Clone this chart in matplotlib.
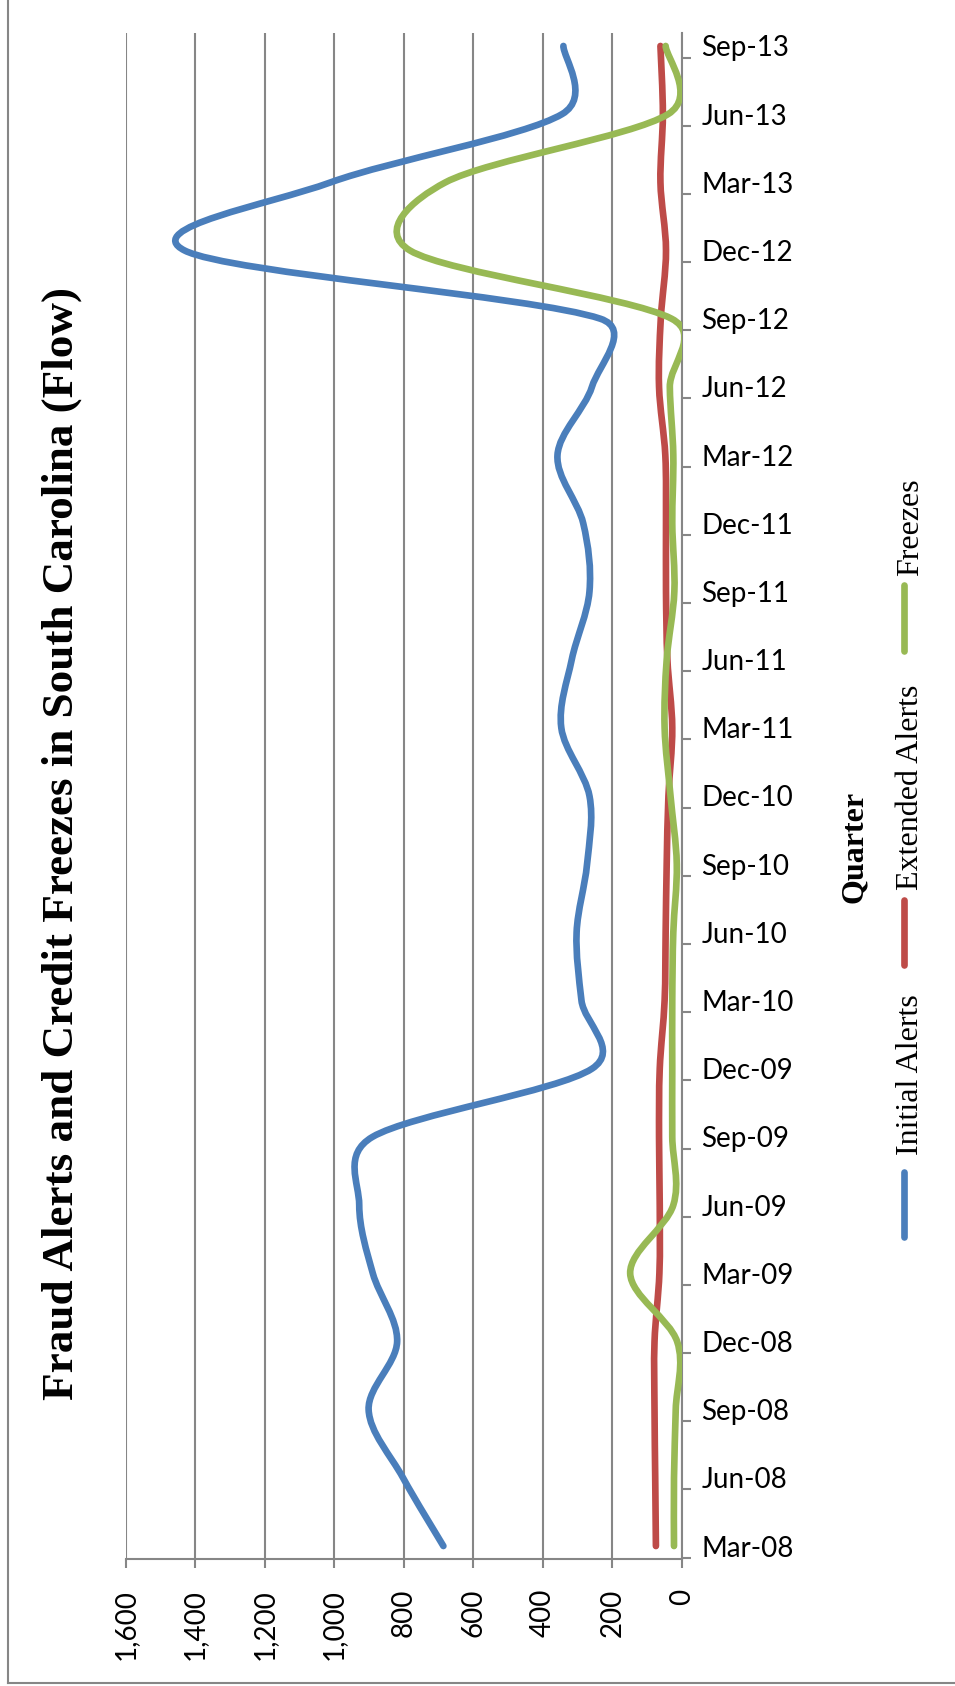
import numpy as np
import matplotlib
matplotlib.use("Agg")
import matplotlib.pyplot as plt
from matplotlib.path import Path
from matplotlib.patches import PathPatch
from matplotlib.lines import Line2D
from matplotlib.ticker import FuncFormatter

quarters = ["Mar-08", "Jun-08", "Sep-08", "Dec-08", "Mar-09", "Jun-09",
            "Sep-09", "Dec-09", "Mar-10", "Jun-10", "Sep-10", "Dec-10",
            "Mar-11", "Jun-11", "Sep-11", "Dec-11", "Mar-12", "Jun-12",
            "Sep-12", "Dec-12", "Mar-13", "Jun-13", "Sep-13"]
initial_alerts = [686, 802, 901, 819, 889, 928, 890, 259, 289, 303, 273, 266,
                  347, 317, 266, 284, 358, 259, 235, 1430, 1010, 345, 341]
extended_alerts = [75, 77, 79, 79, 65, 64, 66, 64, 50, 47, 44, 39,
                   28, 42, 46, 46, 48, 66, 61, 46, 62, 55, 62]
freezes = [23, 23, 18, 14, 149, 25, 28, 28, 28, 25, 15, 33,
           50, 44, 22, 28, 25, 35, 30, 782, 680, 40, 47]
value_ticks = list(range(0, 1601, 200))

BLUE = "#4A7EBB"
RED = "#BE4B48"
GREEN = "#98B954"
GRAY = "#868686"

W, H = 955, 1686
plt.rcParams["font.family"] = ["Lato", "DejaVu Sans"]


def smooth_path(ax, values):
    # spreadsheet-style smoothing: bezier control points from the neighbours,
    # 1/6 of the chord but never more than half the segment (screen space)
    data = np.column_stack([values, np.arange(len(values))]).astype(float)
    pts = ax.transData.transform(data)
    padded = np.vstack([pts[0], pts, pts[-1]])
    verts = [pts[0]]
    codes = [Path.MOVETO]
    for i in range(len(pts) - 1):
        p0, p1, p2, p3 = padded[i], padded[i + 1], padded[i + 2], padded[i + 3]
        d12 = np.hypot(*(p2 - p1))
        d02 = np.hypot(*(p2 - p0))
        d13 = np.hypot(*(p3 - p1))
        f = min(1 / 6, d12 / (2 * d02)) if d02 > 0 else 0
        g = min(1 / 6, d12 / (2 * d13)) if d13 > 0 else 0
        verts += [p1 + (p2 - p0) * f, p2 - (p3 - p1) * g, p2]
        codes += [Path.CURVE4] * 3
    verts = ax.transData.inverted().transform(np.array(verts))
    return Path(verts, codes)


def fx(px):
    return px / W


def fy(py):
    return 1 - py / H


fig = plt.figure(figsize=(W / 100, H / 100), dpi=100)
ax = fig.add_axes([fx(125.5), fy(1559), (682 - 125.5) / W, (1559 - 33) / H])
ax.set_xlim(1600, 0)
ax.set_ylim(-0.19, len(quarters) - 1 + 0.19)

series = [(initial_alerts, BLUE), (extended_alerts, RED), (freezes, GREEN)]
for vals, col in series:
    ax.add_patch(PathPatch(smooth_path(ax, vals), fill=False, edgecolor=col,
                           lw=4.8, capstyle="round", joinstyle="round",
                           zorder=3))

# value axis along the bottom, labels turned sideways
ax.set_xticks(value_ticks)
ax.xaxis.set_major_formatter(FuncFormatter(lambda v, _: f"{int(v):,}"))
ax.tick_params(axis="x", length=6.5, width=1.5, color=GRAY, pad=15,
               labelrotation=90, labelsize=20)
ax.grid(axis="x", color=GRAY, lw=1.5)
ax.set_axisbelow(True)

# quarter axis on the right
ax.yaxis.set_ticks_position("right")
ax.set_yticks(range(len(quarters)))
ax.set_yticklabels(quarters)
ax.set_yticks(np.arange(len(quarters)) - 0.17, minor=True)
ax.tick_params(axis="y", which="major", length=0, pad=14, labelsize=20)
ax.tick_params(axis="y", which="minor", length=6.5, width=1.5, color=GRAY,
               direction="out")

for side in ["top", "left"]:
    ax.spines[side].set_visible(False)
for side in ["bottom", "right"]:
    ax.spines[side].set_color(GRAY)
    ax.spines[side].set_linewidth(1.5)

fig.text(fx(73), fy(843),
         "Fraud Alerts and Credit Freezes in South Carolina (Flow)",
         rotation=90, rotation_mode="anchor", ha="center", va="baseline",
         family="Liberation Serif", weight="bold", size=32.5)
fig.text(fx(862), fy(847), "Quarter", rotation=90, rotation_mode="anchor",
         ha="center", va="baseline", family="Liberation Serif",
         weight="bold", size=23)

# legend, written sideways
legend_items = [("Initial Alerts", BLUE, 1075, (1172, 1237)),
                ("Extended Alerts", RED, 787, (900, 965)),
                ("Freezes", GREEN, 527, (585, 651))]
for label, col, ty, (y0, y1) in legend_items:
    fig.add_artist(Line2D([fx(904), fx(904)], [fy(y0), fy(y1)], color=col,
                          lw=4.8, solid_capstyle="round",
                          transform=fig.transFigure))
    fig.text(fx(918), fy(ty), label, rotation=90, rotation_mode="anchor",
             ha="center", va="baseline", family="Liberation Serif", size=23)

# chart border
fig.add_artist(Line2D([fx(8), fx(8)], [fy(0), fy(1683)], color=GRAY, lw=1.5,
                      transform=fig.transFigure))
fig.add_artist(Line2D([fx(8), 1], [fy(1683), fy(1683)], color=GRAY, lw=1.5,
                      transform=fig.transFigure))

fig.savefig("out.png", dpi=100, facecolor="white")
